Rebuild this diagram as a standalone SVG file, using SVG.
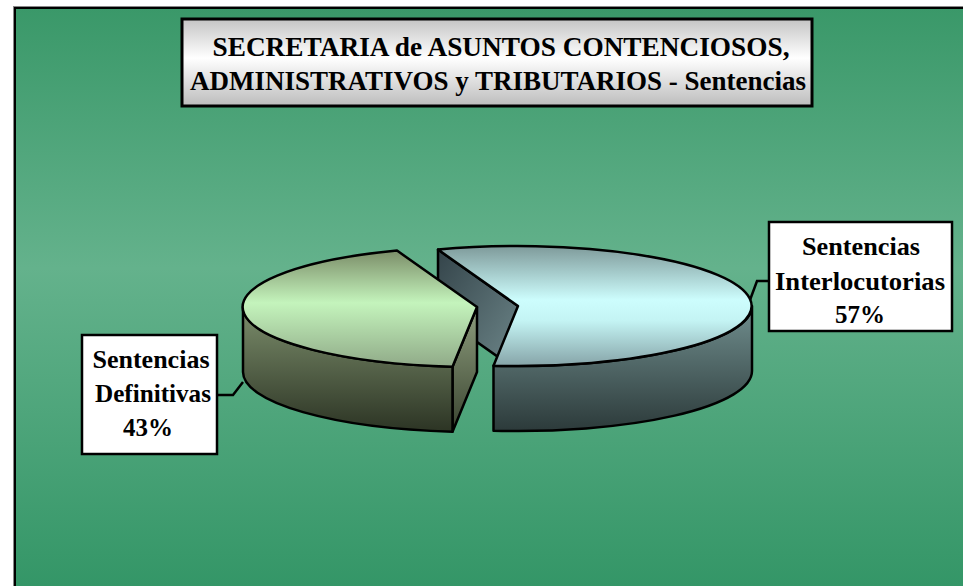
<svg xmlns="http://www.w3.org/2000/svg" width="963" height="586" viewBox="0 0 963 586">
<defs>
<linearGradient id="bg" x1="0" y1="8" x2="0" y2="586" gradientUnits="userSpaceOnUse">
<stop offset="0" stop-color="#3a9869"/><stop offset="0.45" stop-color="#64b28c"/><stop offset="1" stop-color="#349667"/>
</linearGradient>
<linearGradient id="titleG" x1="0" y1="0" x2="0" y2="1">
<stop offset="0" stop-color="#c4c4c4"/><stop offset="0.45" stop-color="#ffffff"/><stop offset="1" stop-color="#bcbcbc"/>
</linearGradient>
<linearGradient id="rTop" x1="0" y1="0" x2="0" y2="1">
<stop offset="0" stop-color="#7e9a9a"/><stop offset="0.45" stop-color="#cdfdfd"/><stop offset="0.62" stop-color="#c4f4f4"/><stop offset="1" stop-color="#86a4a8"/>
</linearGradient>
<linearGradient id="rSide" x1="0" y1="0" x2="0" y2="1">
<stop offset="0" stop-color="#718f8f"/><stop offset="1" stop-color="#2c3a3a"/>
</linearGradient>
<linearGradient id="rCut" x1="0" y1="0" x2="1" y2="1">
<stop offset="0" stop-color="#34444a"/><stop offset="1" stop-color="#6e878a"/>
</linearGradient>
<linearGradient id="lTop" x1="0" y1="0" x2="0" y2="1">
<stop offset="0" stop-color="#7b8d68"/><stop offset="0.45" stop-color="#c4f4bc"/><stop offset="1" stop-color="#90aa88"/>
</linearGradient>
<linearGradient id="lSide" x1="0" y1="0" x2="0" y2="1">
<stop offset="0" stop-color="#7c8e6c"/><stop offset="1" stop-color="#2c3424"/>
</linearGradient>
<linearGradient id="lCut" x1="0" y1="0" x2="0" y2="1">
<stop offset="0" stop-color="#8e9e7e"/><stop offset="1" stop-color="#3a4430"/>
</linearGradient>
</defs>
<style>
.pie{stroke:#000;stroke-width:2.5;stroke-linejoin:round}
.box{fill:#fff;stroke:#000;stroke-width:2.5}
.lbl{font-family:"Liberation Serif","Times New Roman",serif;font-weight:bold;font-size:25px;fill:#000;text-anchor:middle}
.ttl{font-family:"Liberation Serif","Times New Roman",serif;font-weight:bold;font-size:28px;fill:#000;text-anchor:middle}
.lead{fill:none;stroke:#000;stroke-width:2.5}
</style>
<rect x="0" y="0" width="963" height="586" fill="#fff"/>
<rect x="13.5" y="6.5" width="960" height="590" fill="none" stroke="#888" stroke-width="1"/>
<rect x="15" y="8" width="960" height="590" fill="url(#bg)" stroke="#000" stroke-width="2"/>

<g id="title">
<rect x="182" y="19" width="630" height="87" fill="url(#titleG)" stroke="#000" stroke-width="3"/>
<text class="ttl" x="501" y="56" textLength="577" lengthAdjust="spacingAndGlyphs">SECRETARIA de ASUNTOS CONTENCIOSOS,</text>
<text class="ttl" x="498" y="90" textLength="616" lengthAdjust="spacingAndGlyphs">ADMINISTRATIVOS y TRIBUTARIOS - Sentencias</text>
</g>

<g id="slice-interlocutorias">
<path class="pie" fill="url(#rCut)" d="M438,249.6 L518,306 L518,371 L438,314.6 Z"/>
<path class="pie" fill="url(#rSide)" d="M752,306 A234,60 0 0 1 493.5,365.7 L493.5,430.7 A234,60 0 0 0 752,371 Z"/>
<path class="pie" fill="url(#rTop)" d="M518,306 L438,249.6 A234,60 0 1 1 493.5,365.7 Z"/>
</g>

<g id="slice-definitivas">
<path class="pie" fill="url(#lCut)" d="M477,307 L452.5,366.7 L452.5,431.7 L477,372 Z"/>
<path class="pie" fill="url(#lSide)" d="M452.5,366.7 A234,60 0 0 1 243,307 L243,372 A234,60 0 0 0 452.5,431.7 Z"/>
<path class="pie" fill="url(#lTop)" d="M477,307 L452.5,366.7 A234,60 0 0 1 397,250.6 Z"/>
</g>

<g id="connectors">
<polyline class="lead" points="217,395 233,395 243,382"/>
<polyline class="lead" points="769,281 757,281 750,300"/>
</g>

<g id="label-definitivas">
<rect class="box" x="82" y="335" width="135" height="119"/>
<text class="lbl" x="151" y="368" textLength="117" lengthAdjust="spacingAndGlyphs">Sentencias</text>
<text class="lbl" x="153" y="402" textLength="116" lengthAdjust="spacingAndGlyphs">Definitivas</text>
<text class="lbl" x="148" y="436" textLength="50" lengthAdjust="spacingAndGlyphs">43%</text>
</g>

<g id="label-interlocutorias">
<rect class="box" x="769" y="222" width="183" height="109"/>
<text class="lbl" x="861" y="255" textLength="118" lengthAdjust="spacingAndGlyphs">Sentencias</text>
<text class="lbl" x="860" y="290" textLength="170" lengthAdjust="spacingAndGlyphs">Interlocutorias</text>
<text class="lbl" x="860" y="323" textLength="50" lengthAdjust="spacingAndGlyphs">57%</text>
</g>
</svg>
